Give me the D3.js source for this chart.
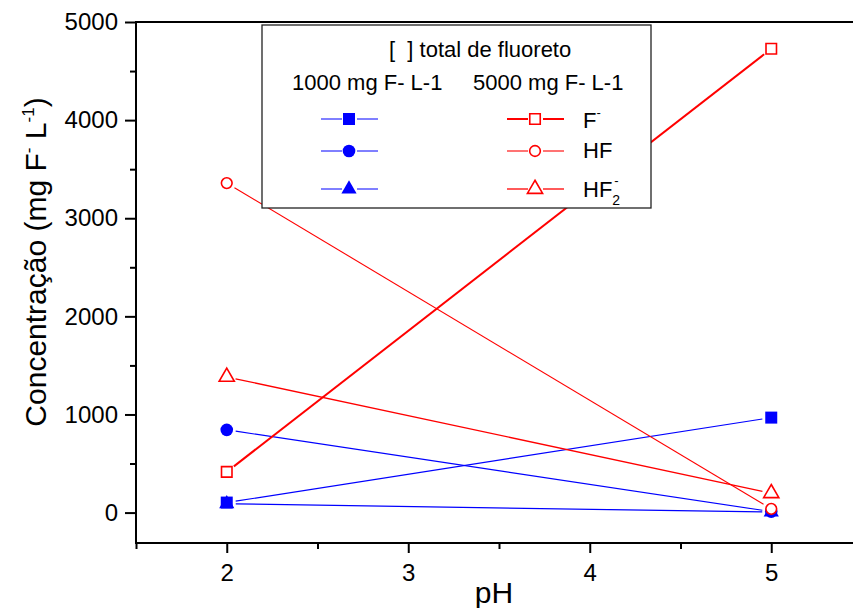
<!DOCTYPE html>
<html>
<head>
<meta charset="utf-8">
<script src="https://cdn.jsdelivr.net/npm/d3@7"></script>
<style>
  body { margin: 0; background: #fff; }
  svg { display: block; font-family: "Liberation Sans", Arial, sans-serif; }
</style>
</head>
<body>
<svg id="chart" width="853" height="608"></svg>
<script>
// pH values where concentrations were computed
const phValues = [2, 5];

// [ ] total 1000 mg F- L-1 (filled, blue)
const blueF = [102, 968];
const blueHF = [843, 10];
const blueHF2 = [90, 5];

// [ ] total 5000 mg F- L-1 (open, red)
const redF = [415, 4727];
const redHF = [3358, 38];
const redHF2 = [1383, 197];

const xTicks = [2, 3, 4, 5];
const xMinorTicks = [1.5, 2.5, 3.5, 4.5, 5.5];
const yTicks = [0, 1000, 2000, 3000, 4000, 5000];
const yMinorTicks = [500, 1500, 2500, 3500, 4500];

const blue = "#0000ff";
const red = "#ff0000";

const svg = d3.select("#chart");
const box = { left: 136, right: 862, top: 22, bottom: 543 };

const x = d3.scaleLinear().domain([1.5, 5.5]).range([box.left, box.right]);
const y = d3.scaleLinear().domain([-310, 5000]).range([box.bottom, box.top]);

// Frame
svg
  .append("rect")
  .attr("x", box.left)
  .attr("y", box.top)
  .attr("width", box.right - box.left)
  .attr("height", box.bottom - box.top)
  .attr("fill", "none")
  .attr("stroke", "#000")
  .attr("stroke-width", 2);

function styleAxis(g) {
  g.select(".domain").remove();
  g.selectAll(".tick line").attr("stroke", "#000").attr("stroke-width", 2);
  g.selectAll(".tick text").attr("fill", "#000").style("font-size", "24px");
}

// Y axis
svg
  .append("g")
  .attr("transform", `translate(${box.left},0)`)
  .call(d3.axisLeft(y).tickValues(yTicks).tickSize(11).tickPadding(7).tickFormat(d3.format("d")))
  .call(styleAxis);
svg
  .append("g")
  .attr("transform", `translate(${box.left},0)`)
  .call(d3.axisLeft(y).tickValues(yMinorTicks).tickSize(6).tickFormat(""))
  .call(styleAxis);

// X axis
svg
  .append("g")
  .attr("transform", `translate(0,${box.bottom})`)
  .call(d3.axisBottom(x).tickValues(xTicks).tickSize(10).tickPadding(11).tickFormat(d3.format("d")))
  .call(styleAxis);
svg
  .append("g")
  .attr("transform", `translate(0,${box.bottom})`)
  .call(d3.axisBottom(x).tickValues(xMinorTicks).tickSize(6).tickFormat(""))
  .call(styleAxis);

// Axis titles
svg
  .append("text")
  .attr("x", 494)
  .attr("y", 603)
  .attr("text-anchor", "middle")
  .style("font-size", "30px")
  .text("pH");

const yTitle = svg
  .append("text")
  .attr("transform", "translate(46,262) rotate(-90)")
  .attr("text-anchor", "middle")
  .style("font-size", "30px");
yTitle.append("tspan").text("Concentração (mg F");
yTitle.append("tspan").attr("dy", -12).style("font-size", "17px").text("-");
yTitle.append("tspan").attr("dy", 12).text(" L");
yTitle.append("tspan").attr("dy", -12).style("font-size", "17px").text("-1");
yTitle.append("tspan").attr("dy", 12).text(")");

const series = [
  { values: blueF, color: blue, symbol: d3.symbolSquare, size: 144, filled: true, width: 1.2, r: 6 },
  { values: blueHF, color: blue, symbol: d3.symbolCircle, size: 125, filled: true, width: 1.2, r: 6 },
  { values: blueHF2, color: blue, symbol: d3.symbolTriangle, size: 100, filled: true, width: 1.2, r: 6 },
  { values: redF, color: red, symbol: d3.symbolSquare, size: 110, filled: false, width: 2, r: 6 },
  { values: redHF, color: red, symbol: d3.symbolCircle, size: 90, filled: false, width: 1.1, r: 6 },
  { values: redHF2, color: red, symbol: d3.symbolTriangle, size: 100, filled: false, width: 1.3, r: 6 },
];

// shorten a segment so it stops short of the symbols, like Origin does
function trimmed(x1, y1, x2, y2, gap) {
  const len = Math.hypot(x2 - x1, y2 - y1);
  const ux = (x2 - x1) / len;
  const uy = (y2 - y1) / len;
  return [x1 + ux * gap, y1 + uy * gap, x2 - ux * gap, y2 - uy * gap];
}

function drawMarker(g, s, cx, cy) {
  g.append("path")
    .attr("transform", `translate(${cx},${cy})`)
    .attr("d", d3.symbol().type(s.symbol).size(s.size)())
    .attr("fill", s.filled ? s.color : "#fff")
    .attr("stroke", s.color)
    .attr("stroke-width", s.filled ? 0 : 1.6);
}

const plot = svg.append("g");

series.forEach((s) => {
  const pts = phValues.map((ph, i) => [x(ph), y(s.values[i])]);
  for (let i = 0; i < pts.length - 1; i++) {
    const seg = trimmed(pts[i][0], pts[i][1], pts[i + 1][0], pts[i + 1][1], s.r + 3);
    plot
      .append("line")
      .attr("x1", seg[0])
      .attr("y1", seg[1])
      .attr("x2", seg[2])
      .attr("y2", seg[3])
      .attr("stroke", s.color)
      .attr("stroke-width", s.width);
  }
});
series.forEach((s) => {
  phValues.forEach((ph, i) => drawMarker(plot, s, x(ph), y(s.values[i])));
});

// Legend
const legend = svg.append("g");
legend
  .append("rect")
  .attr("x", 262)
  .attr("y", 25)
  .attr("width", 389)
  .attr("height", 183)
  .attr("fill", "#fff")
  .attr("stroke", "#222")
  .attr("stroke-width", 1.3);

legend
  .append("text")
  .attr("x", 389)
  .attr("y", 57)
  .style("font-size", "22px")
  .text("[\u00a0\u00a0] total de fluoreto");
legend
  .append("text")
  .attr("x", 292)
  .attr("y", 90)
  .style("font-size", "22px")
  .text("1000 mg F- L-1");
legend
  .append("text")
  .attr("x", 473)
  .attr("y", 90)
  .style("font-size", "22px")
  .text("5000 mg F- L-1");

const rowY = [119, 151, 189];
const columns = [
  { cx: 349, x0: 321, x1: 378, items: series.slice(0, 3) },
  { cx: 535, x0: 507, x1: 564, items: series.slice(3) },
];
columns.forEach((col) => {
  col.items.forEach((s, i) => {
    const cy = rowY[i];
    legend.append("line").attr("x1", col.x0).attr("x2", col.cx - 7).attr("y1", cy).attr("y2", cy)
      .attr("stroke", s.color).attr("stroke-width", s.filled ? 1 : s.width);
    legend.append("line").attr("x1", col.cx + 8).attr("x2", col.x1).attr("y1", cy).attr("y2", cy)
      .attr("stroke", s.color).attr("stroke-width", s.filled ? 1 : s.width);
    drawMarker(legend, s, col.cx, cy);
  });
});

const labF = legend.append("text").attr("x", 583).attr("y", 128).style("font-size", "22px");
labF.append("tspan").text("F");
labF.append("tspan").attr("dy", -11).style("font-size", "13px").text("-");

legend.append("text").attr("x", 583).attr("y", 158).style("font-size", "22px").text("HF");

const labHF2 = legend.append("text").attr("x", 583).attr("y", 197).style("font-size", "22px");
labHF2.append("tspan").text("HF");
labHF2.append("tspan").attr("dy", 8).style("font-size", "14px").text("2");
labHF2.append("tspan").attr("dx", -6).attr("dy", -20).style("font-size", "13px").text("-");
</script>
</body>
</html>
